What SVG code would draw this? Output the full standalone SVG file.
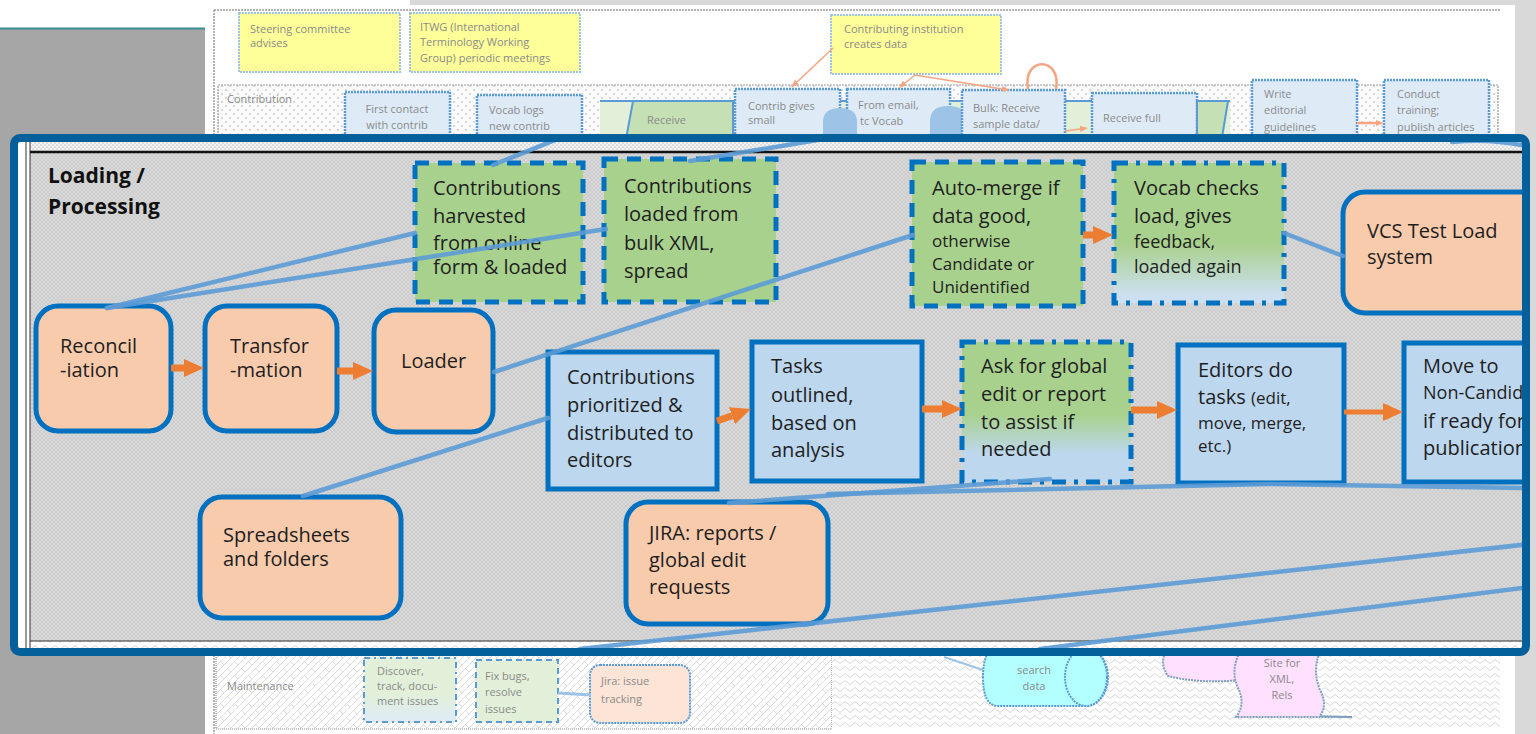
<svg xmlns="http://www.w3.org/2000/svg" width="1536" height="734" viewBox="0 0 1536 734">
<defs>
<style>
.t{font-family:"Open Sans","Liberation Sans",sans-serif;font-size:20px;fill:#1e1e1e}
.ts{font-size:17px}
.tm{font-size:18px}
.tb{font-family:"Open Sans","Liberation Sans",sans-serif;font-size:21px;font-weight:bold;fill:#111}
.bt{font-family:"Open Sans","Liberation Sans",sans-serif;font-size:11px;fill:#8a8a8a}
.or{fill:#f8cbad;stroke:#0070c0;stroke-width:5}
.bl{fill:#bdd7ee;stroke:#0070c0;stroke-width:5}
.gr{fill:#a9d18e;stroke:#0070c0;stroke-width:5;stroke-dasharray:14 9}
.gd{stroke:#0070c0;stroke-width:5;stroke-dasharray:14 8 4 8}
.cn{fill:none;stroke:#5b9bd5;stroke-width:4.5;stroke-opacity:.9;stroke-linecap:round}
.oa{fill:none;stroke:#ed7d31;stroke-width:7;marker-end:url(#ah)}
.ob{fill:none;stroke:#f4a582;stroke-width:1.6;marker-end:url(#ahs)}
.yb{fill:#ffff99;stroke:#9dc3e6;stroke-width:2;stroke-dasharray:2 1}
.lb{fill:#deebf7;stroke:#5b9bd5;stroke-width:2.5;stroke-dasharray:2 1}
.lg{fill:#e2f0d9}
</style>
<pattern id="ph" width="4" height="4" patternUnits="userSpaceOnUse"><rect width="4" height="4" fill="#dadada"/><path d="M0,0 L4,4 M4,0 L0,4" stroke="#c4c4c4" stroke-width="0.7"/></pattern>
<pattern id="pd" width="8" height="8" patternUnits="userSpaceOnUse"><rect width="8" height="8" fill="#fafafa"/><circle cx="2" cy="2" r="1.1" fill="#cfcfcf"/><circle cx="6" cy="6" r="1.1" fill="#cfcfcf"/></pattern>
<pattern id="ps" width="4" height="4" patternUnits="userSpaceOnUse"><rect width="4" height="4" fill="#f2f2f2"/><circle cx="1" cy="1" r="0.8" fill="#c4c4c4"/><circle cx="3" cy="3" r="0.8" fill="#c4c4c4"/></pattern>
<pattern id="pz" width="10" height="7" patternUnits="userSpaceOnUse"><rect width="10" height="7" fill="#ffffff"/><polyline points="0,5.5 5,1.5 10,5.5" fill="none" stroke="#cccccc" stroke-width="0.8"/></pattern>
<pattern id="pb" width="14" height="14" patternUnits="userSpaceOnUse"><rect width="14" height="14" fill="#ffffff"/><path d="M0,14 L14,0 M0,7 L7,0 M7,14 L14,7 M3,10 L7,14 M10,3 L14,7" fill="none" stroke="#d4d4d4" stroke-width="0.8"/></pattern>
<linearGradient id="gv" x1="0" y1="0" x2="0" y2="1"><stop offset="0" stop-color="#a9d18e"/><stop offset="0.58" stop-color="#a9d18e"/><stop offset="0.95" stop-color="#cde0f1"/><stop offset="1" stop-color="#cde0f1"/></linearGradient>
<linearGradient id="ga" x1="0" y1="0" x2="0" y2="1"><stop offset="0" stop-color="#a9d18e"/><stop offset="0.52" stop-color="#a9d18e"/><stop offset="0.8" stop-color="#bdd7ee"/><stop offset="1" stop-color="#bdd7ee"/></linearGradient>
<linearGradient id="gm" x1="0" y1="0" x2="0" y2="1"><stop offset="0" stop-color="#e2f0d9"/><stop offset="0.55" stop-color="#e2f0d9"/><stop offset="1" stop-color="#deebf7"/></linearGradient>
<marker id="ah" viewBox="0 0 20 18" refX="0" refY="9" markerWidth="20" markerHeight="18" markerUnits="userSpaceOnUse" orient="auto"><path d="M0,0 L20,9 L0,18 z" fill="#ed7d31"/></marker>
<marker id="ahs" viewBox="0 0 8 6" refX="0" refY="3" markerWidth="8" markerHeight="6" markerUnits="userSpaceOnUse" orient="auto"><path d="M0,0 L8,3 L0,6 z" fill="#f4a582"/></marker>
<clipPath id="fc"><rect x="18" y="142" width="1504" height="506"/></clipPath>
</defs>

<g id="page">
<rect width="1536" height="734" fill="#ffffff"/>
<rect x="0" y="29" width="205" height="705" fill="#a6a6a6"/>
<line x1="0" y1="28.5" x2="205" y2="28.5" stroke="#3b8b92" stroke-width="2"/>
<rect x="410" y="0" width="1126" height="5" fill="#d9d9d9"/>
<rect x="1515" y="0" width="21" height="734" fill="#d9d9d9"/>
<line x1="214" y1="10" x2="1500" y2="10" stroke="#9a9a9a" stroke-width="1.5" stroke-dasharray="2 1"/>
<line x1="214" y1="10" x2="214" y2="734" stroke="#9a9a9a" stroke-width="1.5" stroke-dasharray="2 1"/>
<rect x="218" y="85" width="1280" height="70" fill="url(#pd)" stroke="#9a9a9a" stroke-width="1.2" stroke-dasharray="2 1"/>
<rect x="600" y="100" width="630" height="50" class="lg"/>
<line x1="600" y1="101" x2="1230" y2="101" stroke="#5b9bd5" stroke-width="2"/>
<rect x="216" y="650" width="616" height="79" fill="url(#pb)" stroke="#8a8a8a" stroke-width="1" stroke-dasharray="1 1"/>
<rect x="832" y="650" width="668" height="79" fill="url(#pz)"/>
</g>

<g id="bg-steering"><rect x="239" y="13" width="161" height="59" class="yb"/><text class="bt" x="250" y="33">Steering committee</text><text class="bt" x="250" y="47">advises</text></g>
<g id="bg-itwg"><rect x="410" y="13" width="170" height="59" class="yb"/><text class="bt" x="420" y="31">ITWG (International</text><text class="bt" x="420" y="46">Terminology Working</text><text class="bt" x="420" y="62">Group) periodic meetings</text></g>
<g id="bg-contributing"><rect x="831" y="15" width="170" height="59" class="yb"/><text class="bt" x="844" y="33">Contributing institution</text><text class="bt" x="844" y="48">creates data</text></g>
<g id="bg-contribution-label"><text class="bt" x="227" y="103">Contribution</text></g>
<g id="bg-first"><rect x="345" y="92" width="105" height="60" class="lb"/><text class="bt" x="397" y="113" text-anchor="middle">First contact</text><text class="bt" x="397" y="129" text-anchor="middle">with contrib</text></g>
<g id="bg-vocablogs"><rect x="477" y="95" width="105" height="57" class="lb"/><text class="bt" x="489" y="114">Vocab logs</text><text class="bt" x="489" y="130">new contrib</text></g>
<g id="bg-receive"><path d="M633,101 L733,101 L733,150 L624,150 Z" fill="#c5e0b4" stroke="#5b9bd5" stroke-width="2"/><text class="bt" x="647" y="124">Receive</text></g>
<g id="bg-contribgives"><rect x="735" y="89" width="105" height="63" class="lb"/><text class="bt" x="748" y="110">Contrib  gives</text><text class="bt" x="748" y="124">small</text></g>
<g id="bg-fromemail"><rect x="847" y="89" width="103" height="63" class="lb"/><text class="bt" x="858" y="109">From  email,</text><text class="bt" x="860" y="125">tc Vocab</text></g>
<g id="bg-people"><path d="M823,150 L823,122 Q823,108 840,108 Q857,108 857,122 L857,150 Z" fill="#9dc3e6"/><path d="M930,150 L930,121 Q930,106 948,106 Q967,106 967,121 L967,150 Z" fill="#9dc3e6"/></g>
<g id="bg-bulk"><rect x="962" y="90" width="103" height="62" class="lb"/><text class="bt" x="973" y="112">Bulk:  Receive</text><text class="bt" x="973" y="128">sample  data/</text></g>
<g id="bg-receivefull"><rect x="1092" y="93" width="105" height="59" class="lb"/><text class="bt" x="1103" y="122">Receive  full</text></g>
<g id="bg-trap2"><path d="M1197,101 L1228,101 L1220,150 L1197,150 Z" fill="#c5e0b4" stroke="#5b9bd5" stroke-width="2"/></g>
<g id="bg-write"><rect x="1252" y="80" width="105" height="72" class="lb"/><text class="bt" x="1264" y="98">Write</text><text class="bt" x="1264" y="114">editorial</text><text class="bt" x="1264" y="131">guidelines</text></g>
<g id="bg-conduct"><rect x="1384" y="80" width="105" height="72" class="lb"/><text class="bt" x="1397" y="98">Conduct</text><text class="bt" x="1397" y="114">training;</text><text class="bt" x="1397" y="131">publish articles</text></g>
<g id="bg-maintenance-label"><text class="bt" x="227" y="690">Maintenance</text></g>
<g id="bg-discover"><rect x="364" y="658" width="92" height="64" fill="url(#gm)" stroke="#5b9bd5" stroke-width="2" stroke-dasharray="6 4 2 4"/><text class="bt" x="377" y="675">Discover,</text><text class="bt" x="377" y="690">track, docu-</text><text class="bt" x="377" y="705">ment issues</text></g>
<g id="bg-fixbugs"><rect x="476" y="660" width="82" height="62" fill="#e2f0d9" stroke="#5b9bd5" stroke-width="2" stroke-dasharray="6 4"/><text class="bt" x="485" y="680">Fix bugs,</text><text class="bt" x="485" y="696">resolve</text><text class="bt" x="485" y="713">issues</text></g>
<g id="bg-jira"><rect x="590" y="665" width="100" height="58" rx="10" fill="#fce4d6" stroke="#5b9bd5" stroke-width="2" stroke-dasharray="2 1"/><text class="bt" x="601" y="685">Jira: issue</text><text class="bt" x="601" y="703">tracking</text></g>
<g id="bg-search"><path d="M998,648 L1086,648 A22,29 0 0 1 1086,706 L998,706 Q983,706 983,677 Q983,648 998,648 Z" fill="#b3ffff" stroke="#5b9bd5" stroke-width="2" stroke-dasharray="2 1"/><ellipse cx="1086" cy="677" rx="21" ry="29" fill="#b3ffff" stroke="#5b9bd5" stroke-width="2" stroke-dasharray="2 1"/><text class="bt" x="1034" y="674" text-anchor="middle">search</text><text class="bt" x="1034" y="690" text-anchor="middle">data</text></g>
<g id="bg-site"><path d="M1165,652 L1240,652 L1240,680 Q1200,684 1168,676 Q1160,665 1165,652 Z" fill="#ffe0ff" stroke="#7f9fbf" stroke-width="2" stroke-dasharray="2 1"/><path d="M1240,652 L1320,652 Q1312,670 1320,690 Q1328,705 1320,716 L1352,717 L1236,717 Q1246,704 1238,688 Q1230,670 1240,652 Z" fill="#ffe0ff" stroke="#7f9fbf" stroke-width="2" stroke-dasharray="2 1"/><text class="bt" x="1282" y="667" text-anchor="middle">Site for</text><text class="bt" x="1282" y="683" text-anchor="middle">XML,</text><text class="bt" x="1282" y="699" text-anchor="middle">Rels</text></g>

<g id="frame-bg">
<rect x="14" y="138" width="1512" height="514" fill="#ffffff"/>
<g clip-path="url(#fc)">
<rect x="30" y="142" width="1500" height="10" fill="url(#ps)"/>
<rect x="30" y="152" width="1500" height="489" fill="url(#ph)"/>
<rect x="30" y="641" width="1500" height="8" fill="url(#pz)"/>
<line x1="26" y1="142" x2="26" y2="648" stroke="#333" stroke-width="1"/>
<line x1="30" y1="142" x2="30" y2="648" stroke="#333" stroke-width="1"/>
<line x1="30" y1="152" x2="1530" y2="152" stroke="#111" stroke-width="2.5"/>
<line x1="30" y1="641" x2="1530" y2="641" stroke="#333" stroke-width="1.2"/>
</g>
<text class="tb" x="48" y="183">Loading /</text>
<text class="tb" x="48" y="214">Processing</text>
</g>

<g id="n-harvested"><rect x="415" y="163" width="168" height="139" class="gr"/><text class="t" x="433" y="195">Contributions</text><text class="t" x="433" y="223">harvested</text><text class="t" x="433" y="250">from online</text><text class="t" x="433" y="274">form &amp; loaded</text></g>
<g id="n-bulkxml"><rect x="604" y="159" width="172" height="143" class="gr"/><text class="t" x="624" y="193">Contributions</text><text class="t" x="624" y="221">loaded from</text><text class="t" x="624" y="250">bulk XML,</text><text class="t" x="624" y="278">spread</text></g>
<g id="n-automerge"><rect x="912" y="162" width="171" height="144" class="gr"/><text class="t" x="932" y="195">Auto-merge if</text><text class="t" x="932" y="223">data good,</text><text class="t ts" x="932" y="247">otherwise</text><text class="t ts" x="932" y="270">Candidate or</text><text class="t ts" x="932" y="293">Unidentified</text></g>
<g id="n-vocabchecks"><rect x="1114" y="163" width="170" height="140" fill="url(#gv)" class="gd"/><text class="t" x="1134" y="195">Vocab checks</text><text class="t" x="1134" y="223">load, gives</text><text class="t tm" x="1134" y="248">feedback,</text><text class="t tm" x="1134" y="273">loaded again</text></g>
<g id="n-vcs" clip-path="url(#fc)"><rect x="1343" y="192" width="230" height="121" rx="22" class="or"/><text class="t" x="1367" y="238">VCS Test Load</text><text class="t" x="1367" y="264">system</text></g>
<g id="n-reconcil"><rect x="36" y="306" width="135" height="125" rx="22" class="or"/><text class="t" x="60" y="353">Reconcil</text><text class="t" x="60" y="377">-iation</text></g>
<g id="n-transfor"><rect x="205" y="306" width="132" height="125" rx="22" class="or"/><text class="t" x="230" y="353">Transfor</text><text class="t" x="230" y="377">-mation</text></g>
<g id="n-loader"><rect x="374" y="310" width="119" height="122" rx="22" class="or"/><text class="t" x="401" y="368">Loader</text></g>
<g id="n-prioritized"><rect x="548" y="352" width="169" height="137" class="bl"/><text class="t" x="567" y="384">Contributions</text><text class="t" x="567" y="412">prioritized &amp;</text><text class="t" x="567" y="440">distributed to</text><text class="t" x="567" y="467">editors</text></g>
<g id="n-tasks"><rect x="752" y="342" width="170" height="139" class="bl"/><text class="t" x="771" y="373">Tasks</text><text class="t" x="771" y="402">outlined,</text><text class="t" x="771" y="430">based on</text><text class="t" x="771" y="457">analysis</text></g>
<g id="n-ask"><rect x="962" y="342" width="169" height="140" fill="url(#ga)" class="gd"/><text class="t" x="981" y="373">Ask for global</text><text class="t" x="981" y="401">edit or report</text><text class="t" x="981" y="429">to assist if</text><text class="t" x="981" y="456">needed</text></g>
<g id="n-editors"><rect x="1178" y="345" width="166" height="138" class="bl"/><text class="t" x="1198" y="377">Editors do</text><text class="t" x="1198" y="404">tasks <tspan class="ts">(edit,</tspan></text><text class="t ts" x="1198" y="429">move, merge,</text><text class="t ts" x="1198" y="452">etc.)</text></g>
<g id="n-move" clip-path="url(#fc)"><rect x="1404" y="343" width="170" height="139" class="bl"/><text class="t" x="1423" y="373">Move to</text><text class="t tm" x="1423" y="399">Non-Candidate</text><text class="t" x="1423" y="428">if ready for</text><text class="t" x="1423" y="455">publication</text></g>
<g id="n-spreadsheets"><rect x="200" y="497" width="201" height="121" rx="22" class="or"/><text class="t" x="223" y="542">Spreadsheets</text><text class="t" x="223" y="566">and folders</text></g>
<g id="n-jira"><rect x="626" y="502" width="202" height="122" rx="22" class="or"/><text class="t" x="649" y="540">JIRA: reports /</text><text class="t" x="649" y="567">global edit</text><text class="t" x="649" y="594">requests</text></g>

<g id="connectors">
<g id="bg-connectors">
<path class="ob" d="M833,48 L797,82"/>
<path class="ob" d="M915,75 L905,83"/>
<path class="ob" d="M915,75 L1002,89"/>
<path d="M1028,89 C1022,56 1062,56 1056,89" fill="none" stroke="#f4a582" stroke-width="2.5"/>
<path class="ob" d="M1065,131 L1080,129"/>
<path class="ob" d="M1357,123 L1376,123" style="stroke-width:2.5"/>
<path d="M558,693 L591,695" fill="none" stroke="#9dc3e6" stroke-width="3"/>
<path d="M944,657 L983,670" fill="none" stroke="#9dc3e6" stroke-width="2"/>
</g>
<g id="frame-connectors" clip-path="url(#fc)">
<path class="cn" d="M107,308 L415,233"/>
<path class="cn" d="M107,308 L606,229"/>
<path class="cn" d="M494,372 L913,235"/>
<path class="cn" d="M303,496 L548,418"/>
<path class="cn" d="M1284,233 L1343,256"/>
<path class="cn" d="M493,165 L560,138"/>
<path class="cn" d="M690,161 L830,138"/>
<path class="cn" d="M729,503 L1050,479"/>
<path class="cn" d="M828,494 L1270,484 L1530,488"/>
<path class="cn" d="M580,649 L1530,544"/>
<path class="cn" d="M1040,649 L1530,587"/>
<path class="cn" d="M1452,142 C1480,139 1505,141 1530,147"/>
<path class="oa" d="M171,368 L184,368"/>
<path class="oa" d="M337,371 L353,371"/>
<path class="oa" d="M1083,235 L1093,235"/>
<path class="oa" d="M717,421 L732,415.7"/>
<path class="oa" d="M922,409 L942,409"/>
<path class="oa" d="M1131,410 L1157,410"/>
<path class="oa" d="M1344,412 L1383,412" style="stroke-width:5"/>
</g>
</g>

<g id="frame-border">
<rect x="14" y="138" width="1512" height="514" rx="6" fill="none" stroke="#03609a" stroke-width="8"/>
</g>
</svg>
